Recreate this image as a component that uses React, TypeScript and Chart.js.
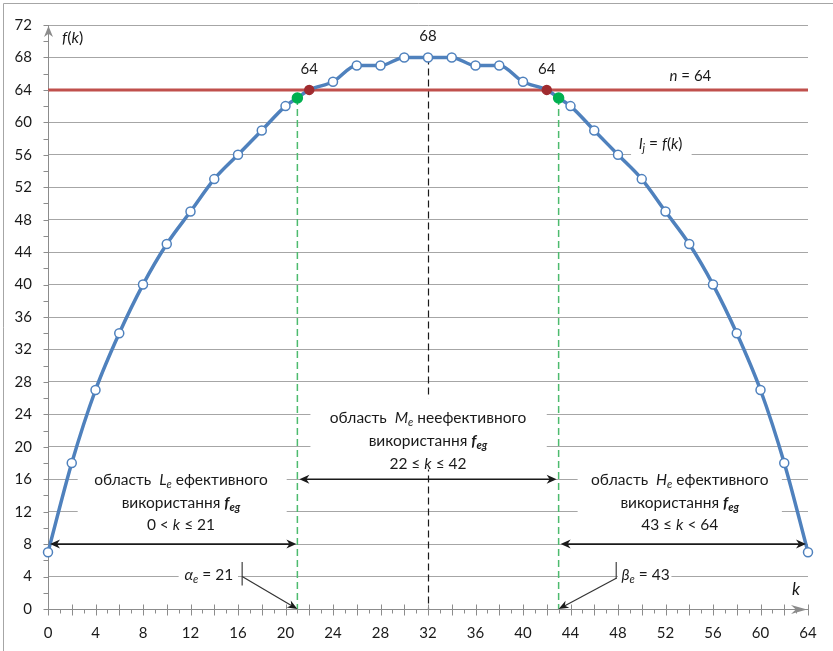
import React, { useEffect, useRef } from "react";
import { Chart, registerables } from "chart.js";

Chart.register(...registerables);

// ---- data ----
const kValues = [0, 2, 4, 6, 8, 10, 12, 14, 16, 18, 20, 21, 22, 24, 26, 28, 30, 32, 34, 36, 38, 40, 42, 43, 44, 46, 48, 50, 52, 54, 56, 58, 60, 62, 64];
const fValues = [7, 18, 27, 34, 40, 45, 49, 53, 56, 59, 62, 63, 64, 65, 67, 67, 68, 68, 68, 67, 67, 65, 64, 63, 62, 59, 56, 53, 49, 45, 40, 34, 27, 18, 7];
const nLevel = 64;
const kMin = 0;
const kMax = 64;
const fMax = 72;
const greenKs = [21, 43];
const redKs = [22, 42];
const peakK = 32;
const labeledKs = [22, 32, 42];
const alphaE = 21;
const betaE = 43;
const xTicks = [0, 4, 8, 12, 16, 20, 24, 28, 32, 36, 40, 44, 48, 52, 56, 60, 64];
const yTicks = [0, 4, 8, 12, 16, 20, 24, 28, 32, 36, 40, 44, 48, 52, 56, 60, 64, 68, 72];

const FONT = "Lato, 'Open Sans', sans-serif";
const TXT = "#1a1a1a";

type Part = { t: string; i?: boolean; b?: boolean; sub?: boolean };

function drawRich(ctx: CanvasRenderingContext2D, parts: Part[], x: number, y: number, align: "left" | "center" | "right", size = 15, color = TXT) {
  const fontOf = (p: Part) => `${p.i ? "italic " : ""}${p.b ? "bold " : ""}${p.sub ? Math.round(size * 0.7) : size}px ${FONT}`;
  const widths = parts.map((p) => {
    ctx.font = fontOf(p);
    return ctx.measureText(p.t).width;
  });
  const total = widths.reduce((a, b) => a + b, 0);
  let cx = align === "left" ? x : align === "center" ? x - total / 2 : x - total;
  ctx.save();
  ctx.textBaseline = "middle";
  ctx.textAlign = "left";
  ctx.fillStyle = color;
  parts.forEach((p, idx) => {
    ctx.font = fontOf(p);
    ctx.fillText(p.t, cx, p.sub ? y + size * 0.3 : y);
    cx += widths[idx];
  });
  ctx.restore();
}

function arrowHead(ctx: CanvasRenderingContext2D, tx: number, ty: number, ang: number, len = 10, half = 4.5, color = "#1a1a1a") {
  const c = Math.cos(ang), s = Math.sin(ang);
  const pt = (a: number, b: number) => [tx - a * c + b * s, ty - a * s - b * c];
  ctx.save();
  ctx.fillStyle = color;
  ctx.beginPath();
  ctx.moveTo(tx, ty);
  let p = pt(len, half);
  ctx.lineTo(p[0], p[1]);
  p = pt(len * 0.7, 0);
  ctx.lineTo(p[0], p[1]);
  p = pt(len, -half);
  ctx.lineTo(p[0], p[1]);
  ctx.closePath();
  ctx.fill();
  ctx.restore();
}

function line(ctx: CanvasRenderingContext2D, x1: number, y1: number, x2: number, y2: number, color: string, w: number, dash: number[] = []) {
  ctx.save();
  ctx.strokeStyle = color;
  ctx.lineWidth = w;
  ctx.setLineDash(dash);
  ctx.beginPath();
  ctx.moveTo(x1, y1);
  ctx.lineTo(x2, y2);
  ctx.stroke();
  ctx.restore();
}

function dblArrow(ctx: CanvasRenderingContext2D, x1: number, x2: number, y: number) {
  line(ctx, x1 + 4, y, x2 - 4, y, "#1a1a1a", 1.6);
  arrowHead(ctx, x1, y, Math.PI);
  arrowHead(ctx, x2, y, 0);
}

const annotPlugin = {
  id: "annot",
  beforeDatasetsDraw(chart: any) {
    const ctx: CanvasRenderingContext2D = chart.ctx;
    const xs = chart.scales.x, ys = chart.scales.y;
    const xp = (k: number) => xs.getPixelForValue(k);
    const yp = (v: number) => ys.getPixelForValue(v);
    const valAt = (k: number) => fValues[kValues.indexOf(k)];
    // vertical dashed lines
    line(ctx, Math.round(xp(peakK)) + 0.5, yp(valAt(peakK)), Math.round(xp(peakK)) + 0.5, yp(0), "#1a1a1a", 1.2, [7, 4]);
    greenKs.forEach((k) => {
      line(ctx, xp(k), yp(valAt(k)), xp(k), yp(0), "#4dbb6e", 1.5, [7, 4]);
    });
    // white boxes breaking gridlines behind labels
    ctx.save();
    ctx.fillStyle = "#ffffff";
    const box = (k1: number, k2: number, v1: number, v2: number) => {
      ctx.fillRect(xp(k1), yp(v2), xp(k2) - xp(k1), yp(v1) - yp(v2));
    };
    box(2.5, 20.1, 9.2, 18.2);
    box(22.1, 42, 17.2, 26.0);
    box(44.6, 61.8, 9.2, 18.2);
    box(11.0, 16.0, 2.8, 5.2);
    box(48.0, 52.5, 2.8, 5.2);
    box(49.1, 54.2, 55, 57.2);
    ctx.restore();
  },
  afterDatasetsDraw(chart: any) {
    const ctx: CanvasRenderingContext2D = chart.ctx;
    const xs = chart.scales.x, ys = chart.scales.y;
    const xp = (k: number) => xs.getPixelForValue(k);
    const yp = (v: number) => ys.getPixelForValue(v);
    const axisCol = "#8c8c8c";
    const x0 = Math.round(xp(kMin)) + 0.5;
    const y0 = Math.round(yp(0)) + 0.5;
    // y minor ticks every 2
    for (let v = 0; v <= fMax; v += 2) {
      const yy = Math.round(yp(v)) + 0.5;
      line(ctx, x0 - 5, yy, x0, yy, axisCol, 1);
    }
    // x ticks every 1
    for (let k = kMin; k <= kMax; k += 1) {
      const xx = Math.round(xp(k)) + 0.5;
      if (k % 2 === 0) line(ctx, xx, y0 - 5, xx, y0 + 6, axisCol, 1);
      else line(ctx, xx, y0, xx, y0 + 4, axisCol, 1);
    }
    // axis arrows
    arrowHead(ctx, x0, yp(fMax) + 1, -Math.PI / 2, 11, 4.5, axisCol);
    arrowHead(ctx, xp(kMax) - 1, y0, 0, 16, 4.5, axisCol);

    // region arrows
    dblArrow(ctx, xp(kMin) + 2, xp(alphaE) - 1, yp(8));
    dblArrow(ctx, xp(alphaE) + 2, xp(betaE) - 2, yp(16));
    dblArrow(ctx, xp(betaE) + 2, xp(kMax) - 2, yp(8));

    // alpha pointer
    const ax = xp(16.35);
    line(ctx, ax, yp(5.8), ax, yp(2.9), "#404040", 1.2);
    const ang1 = Math.atan2(yp(0) - yp(4), xp(alphaE) - ax);
    line(ctx, ax, yp(4), xp(alphaE) - 6 * Math.cos(ang1), yp(0) - 6 * Math.sin(ang1), "#333", 1.2);
    arrowHead(ctx, xp(alphaE), yp(0), ang1, 10, 4);
    // beta pointer
    const bx = xp(47.85);
    line(ctx, bx, yp(5.8), bx, yp(3.7), "#404040", 1.2);
    const ang2 = Math.atan2(yp(0) - yp(3.8), xp(betaE) - bx);
    line(ctx, bx, yp(3.8), xp(betaE) - 6 * Math.cos(ang2), yp(0) - 6 * Math.sin(ang2), "#333", 1.2);
    arrowHead(ctx, xp(betaE), yp(0), ang2, 10, 4);
  },
  afterDraw(chart: any) {
    const ctx: CanvasRenderingContext2D = chart.ctx;
    const xs = chart.scales.x, ys = chart.scales.y;
    const xp = (k: number) => xs.getPixelForValue(k);
    const yp = (v: number) => ys.getPixelForValue(v);
    const valAt = (k: number) => fValues[kValues.indexOf(k)];

    // outer border (top/left)
    line(ctx, 3.5, 3.5, chart.width, 3.5, "#a6a6a6", 1);
    line(ctx, 3.5, 3.5, 3.5, chart.height, "#a6a6a6", 1);

    // value labels
    labeledKs.forEach((k) => {
      drawRich(ctx, [{ t: String(valAt(k)) }], xp(k), yp(valAt(k)) - 21, "center", 15);
    });
    drawRich(ctx, [{ t: "n", i: true }, { t: " = " + nLevel }], xp(54.1), yp(65.7), "center", 15);
    drawRich(ctx, [{ t: "l", i: true }, { t: "j", i: true, sub: true }, { t: " = " }, { t: "f", i: true }, { t: "(" }, { t: "k", i: true }, { t: ")" }], xp(51.6), yp(57.3), "center", 15.5);
    drawRich(ctx, [{ t: "f", i: true }, { t: "(" }, { t: "k", i: true }, { t: ")" }], xp(kMin) + 14, yp(fMax) + 13, "left", 16);
    drawRich(ctx, [{ t: "k", i: true }], xp(kMax) - 12, yp(0) - 19, "center", 17);

    // region texts
    const S = 15.5;
    const sub: Part[] = [{ t: "використання " }, { t: "f", i: true, b: true }, { t: "eg", i: true, b: true, sub: true }];
    drawRich(ctx, [{ t: "область  " }, { t: "L", i: true }, { t: "e", i: true, sub: true }, { t: " ефективного" }], xp(11.2), yp(15.95), "center", S);
    drawRich(ctx, sub, xp(11.2), yp(13.1), "center", S);
    drawRich(ctx, [{ t: "0 < " }, { t: "k", i: true }, { t: " ≤ " + alphaE }], xp(11.2), yp(10.4), "center", S);

    drawRich(ctx, [{ t: "область  " }, { t: "M", i: true }, { t: "e", i: true, sub: true }, { t: " неефективного" }], xp(32), yp(23.55), "center", S);
    drawRich(ctx, sub, xp(32), yp(20.7), "center", S);
    drawRich(ctx, [{ t: (alphaE + 1) + " ≤ " }, { t: "k", i: true }, { t: " ≤ " + (betaE - 1) }], xp(32), yp(17.9), "center", S);

    drawRich(ctx, [{ t: "область  " }, { t: "H", i: true }, { t: "e", i: true, sub: true }, { t: " ефективного" }], xp(53.2), yp(15.95), "center", S);
    drawRich(ctx, sub, xp(53.2), yp(13.1), "center", S);
    drawRich(ctx, [{ t: betaE + " ≤ " }, { t: "k", i: true }, { t: " < " + kMax }], xp(53.2), yp(10.4), "center", S);

    // alpha / beta labels
    drawRich(ctx, [{ t: "α", i: true }, { t: "e", i: true, sub: true }, { t: " = " + alphaE }], xp(15.6), yp(4.17), "right", 15.5);
    drawRich(ctx, [{ t: "β", i: true }, { t: "e", i: true, sub: true }, { t: " = " + betaE }], xp(48.3), yp(4.17), "left", 15.5);
  },
};

export default function App() {
  const ref = useRef<HTMLCanvasElement | null>(null);
  useEffect(() => {
    if (!ref.current) return;
    const pts = kValues.map((k, i) => ({ x: k, y: fValues[i] }));
    const isGreen = (k: number) => greenKs.includes(k);
    const isRed = (k: number) => redKs.includes(k);
    const chart = new Chart(ref.current, {
      type: "line",
      data: {
        datasets: [
          {
            data: pts,
            borderColor: "#4f81bd",
            borderWidth: 3.5,
            cubicInterpolationMode: "monotone",
            clip: false as any,
            pointRadius: (c: any) => (isGreen(kValues[c.dataIndex]) ? 5 : 4.5),
            pointBorderWidth: 1.5,
            pointBackgroundColor: (c: any) => {
              const k = kValues[c.dataIndex];
              return isGreen(k) ? "#00b050" : isRed(k) ? "#a02b2f" : "#ffffff";
            },
            pointBorderColor: (c: any) => {
              const k = kValues[c.dataIndex];
              return isGreen(k) ? "#00b050" : isRed(k) ? "#a02b2f" : "#4f81bd";
            },
          } as any,
          {
            data: [
              { x: kMin, y: nLevel },
              { x: kMax, y: nLevel },
            ],
            borderColor: "#c0504d",
            borderWidth: 3,
            pointRadius: 0,
            clip: false as any,
          } as any,
        ],
      },
      options: {
        responsive: false,
        animation: false,
        events: [],
        layout: { padding: { top: 22, right: 25, left: 0, bottom: 0 } },
        plugins: { legend: { display: false }, tooltip: { enabled: false } },
        scales: {
          x: {
            type: "linear",
            min: kMin,
            max: kMax,
            afterBuildTicks: (s: any) => {
              s.ticks = xTicks.map((v) => ({ value: v }));
            },
            afterFit: (s: any) => {
              s.height = 42;
            },
            grid: { display: false, drawTicks: false },
            border: { display: true, color: "#8c8c8c", width: 1 },
            ticks: { padding: 15, color: TXT, font: { family: FONT, size: 15 }, maxRotation: 0, autoSkip: false },
          },
          y: {
            type: "linear",
            min: 0,
            max: fMax,
            afterBuildTicks: (s: any) => {
              s.ticks = yTicks.map((v) => ({ value: v }));
            },
            afterFit: (s: any) => {
              s.width = 48;
            },
            grid: { color: "#a6a6a6", lineWidth: 1, drawTicks: false },
            border: { display: true, color: "#8c8c8c", width: 1 },
            ticks: { padding: 16, color: TXT, font: { family: FONT, size: 15 }, autoSkip: false },
          },
        },
      },
      plugins: [annotPlugin as any],
    });
    return () => chart.destroy();
  }, []);
  return (
    <div style={{ position: "absolute", left: 0, top: 0, width: 833, height: 651, background: "#fff" }}>
      <canvas ref={ref} width={833} height={651} style={{ display: "block", width: 833, height: 651 }} />
    </div>
  );
}
